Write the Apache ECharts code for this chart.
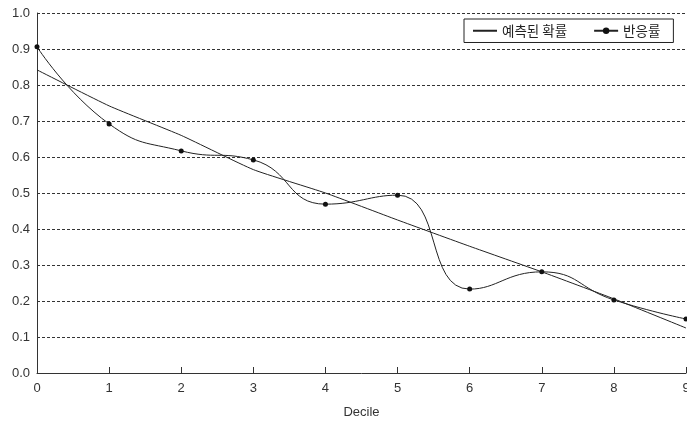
<!DOCTYPE html>
<html><head><meta charset="utf-8">
<script src="https://cdn.jsdelivr.net/npm/echarts@6/dist/echarts.min.js"></script>
<style>html,body{margin:0;padding:0;background:#fff}#c{width:687px;height:423px}</style>
</head><body><div id="c"></div>
<script>
const deciles = ['0','1','2','3','4','5','6','7','8','9'];
const predicted = [0.842, 0.742, 0.660, 0.565, 0.500, 0.425, 0.352, 0.281, 0.206, 0.125];
const response = [0.906, 0.692, 0.617, 0.592, 0.469, 0.494, 0.233, 0.281, 0.203, 0.150];
const seriesNames = ['예측된 확률', '반응률'];

const chart = echarts.init(document.getElementById('c'));
chart.setOption({
  animation: false,
  textStyle: {fontFamily: 'Liberation Sans, Arial, sans-serif'},
  grid: {left: 37, right: 1, top: 13, bottom: 50, containLabel: false, outerBoundsMode: 'none'},
  legend: {
    left: 464, top: 19,
    itemWidth: 24, itemHeight: 8, itemGap: 26,
    padding: [5, 13, 5, 8],
    borderColor: '#222', borderWidth: 1,
    textStyle: {fontFamily: 'Noto Sans CJK KR', fontSize: 13.5, color: '#222'},
    data: [
      {name: seriesNames[0], itemStyle: {opacity: 0}},
      {name: seriesNames[1]}
    ]
  },
  xAxis: {
    type: 'category', data: deciles, boundaryGap: false,
    name: 'Decile', nameLocation: 'middle', nameGap: 33,
    nameTextStyle: {fontSize: 13, color: '#333'},
    axisLine: {lineStyle: {color: '#333', width: 1}},
    axisTick: {inside: true, length: 6, lineStyle: {color: '#333'}},
    axisLabel: {fontSize: 13, color: '#333', margin: 9},
    splitLine: {show: false}
  },
  yAxis: {
    type: 'value', min: 0, max: 1, interval: 0.1,
    axisLine: {show: true, lineStyle: {color: '#333', width: 1}},
    axisTick: {show: false},
    axisLabel: {fontSize: 13, color: '#333', margin: 7, formatter: v => v.toFixed(1)},
    splitLine: {lineStyle: {color: '#333', type: [3, 2], width: 1}}
  },
  series: [
    {name: seriesNames[0], type: 'line', data: predicted, smooth: 0.15,
     symbol: 'none', showSymbol: false,
     lineStyle: {color: '#222', width: 1}, itemStyle: {color: '#222'}},
    {name: seriesNames[1], type: 'line', data: response, smooth: 0.5,
     symbol: 'circle', symbolSize: 5,
     lineStyle: {color: '#222', width: 1}, itemStyle: {color: '#111'}}
  ]
});
</script></body></html>
